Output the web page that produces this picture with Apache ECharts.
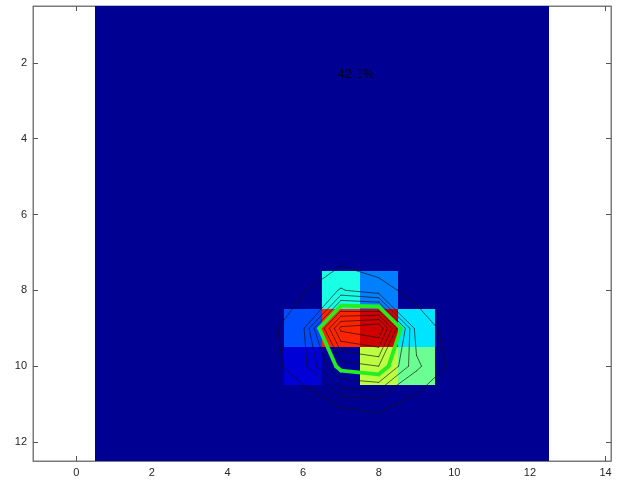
<!DOCTYPE html>
<html>
<head>
<meta charset="utf-8">
<script src="https://cdn.jsdelivr.net/npm/echarts@6/dist/echarts.min.js"></script>
<style>
html,body{margin:0;padding:0;background:#fff;}
#chart{width:621px;height:482px;}
</style>
</head>
<body>
<div id="chart"></div>
<script>
// ---- data ----
const xTicks = [0, 2, 4, 6, 8, 10, 12, 14];
const yTicks = [2, 4, 6, 8, 10, 12];
const gridSize = 12;
const backgroundValue = 0.02;
// image cells that differ from the background (column, row, value on the 0..1 jet scale)
const cellX = [7, 8, 6, 7, 8, 9, 6, 7, 8, 9];
const cellY = [8, 8, 9, 9, 9, 9, 10, 10, 10, 10];
const cellValue = [0.40, 0.25, 0.20, 0.84, 0.92, 0.35, 0.085, 0.03, 0.56, 0.48];
// field that the contour lines are drawn from (zero elsewhere)
const fieldX = [6, 7, 8, 9, 5, 6, 7, 8, 9, 10, 5, 6, 7, 8, 9, 10, 5, 6, 7, 8, 9, 10, 6, 7, 8, 9, 10];
const fieldY = [7, 7, 7, 7, 8, 8, 8, 8, 8, 8, 9, 9, 9, 9, 9, 9, 10, 10, 10, 10, 10, 10, 11, 11, 11, 11, 11];
const fieldValue = [0.01, 0.04, 0.04, 0.01, 0.01, 0.09, 0.21, 0.13, 0.07, 0.01, 0.06, 0.18, 0.93, 1.00, 0.15, 0.06, 0.05, 0.16, 0.55, 0.60, 0.22, 0.07, 0.04, 0.11, 0.13, 0.06, 0.02];
const contourLevels = [0.1, 0.2, 0.3, 0.4, 0.6, 0.7, 0.8, 0.9];
const highlightLevel = 0.5;
const annotationText = '42.1%';
const annotationAt = [7.4, 2.3];

// ---- build image cells ----
const cells = [];
for (let r = 1; r <= gridSize; r++) {
  for (let c = 1; c <= gridSize; c++) {
    let v = backgroundValue;
    for (let k = 0; k < cellX.length; k++) {
      if (cellX[k] === c && cellY[k] === r) v = cellValue[k];
    }
    cells.push([c, r, v]);
  }
}

// ---- contour field and marching squares ----
const F = [];
for (let r = 0; r <= gridSize + 1; r++) { F.push(new Array(gridSize + 2).fill(0)); }
for (let k = 0; k < fieldX.length; k++) F[fieldY[k]][fieldX[k]] = fieldValue[k];

function contourSegments(level) {
  const segs = [];
  for (let j = 1; j < gridSize; j++) {
    for (let i = 1; i < gridSize; i++) {
      const v = [F[j][i], F[j][i + 1], F[j + 1][i + 1], F[j + 1][i]];
      const p = [[i, j], [i + 1, j], [i + 1, j + 1], [i, j + 1]];
      const pts = [];
      for (let k = 0; k < 4; k++) {
        const a = v[k], b = v[(k + 1) % 4];
        if ((a < level) !== (b < level)) {
          const t = (level - a) / (b - a);
          const p0 = p[k], p1 = p[(k + 1) % 4];
          pts.push([p0[0] + t * (p1[0] - p0[0]), p0[1] + t * (p1[1] - p0[1])]);
        }
      }
      if (pts.length === 2) segs.push({ coords: pts });
      else if (pts.length === 4) { segs.push({ coords: [pts[0], pts[1]] }); segs.push({ coords: [pts[2], pts[3]] }); }
    }
  }
  return segs;
}
let blackSegs = [];
contourLevels.forEach(l => { blackSegs = blackSegs.concat(contourSegments(l)); });
const greenSegs = contourSegments(highlightLevel);

// ---- chart ----
const chart = echarts.init(document.getElementById('chart'));
const xMin = -1.145, xMax = 14.145, yMin = 0.5, yMax = 12.5;
const axisLineStyle = { onZero: false, lineStyle: { color: '#7a7a7a', width: 1 } };
const labelStyle = { color: '#262626', fontSize: 11, fontFamily: 'Liberation Sans, Arial, sans-serif' };
const tickStyle = { inside: true, length: 5, lineStyle: { color: '#555' } };

chart.setOption({
  animation: false,
  backgroundColor: '#fff',
  grid: { left: 33, right: 10, top: 6, bottom: 21, show: true, borderColor: '#7a7a7a', borderWidth: 1, backgroundColor: '#fff' },
  xAxis: [
    { type: 'value', min: xMin, max: xMax, position: 'bottom', axisLine: axisLineStyle, splitLine: { show: false },
      axisTick: Object.assign({ customValues: xTicks }, tickStyle),
      axisLabel: Object.assign({ customValues: xTicks, margin: 6 }, labelStyle) },
    { type: 'value', min: xMin, max: xMax, position: 'top', axisLine: axisLineStyle, splitLine: { show: false },
      axisTick: Object.assign({ customValues: xTicks }, tickStyle),
      axisLabel: { show: false, customValues: xTicks } }
  ],
  yAxis: [
    { type: 'value', min: yMin, max: yMax, inverse: true, position: 'left', axisLine: axisLineStyle, splitLine: { show: false },
      axisTick: Object.assign({ customValues: yTicks }, tickStyle),
      axisLabel: Object.assign({ customValues: yTicks, margin: 6 }, labelStyle) },
    { type: 'value', min: yMin, max: yMax, inverse: true, position: 'right', axisLine: axisLineStyle, splitLine: { show: false },
      axisTick: Object.assign({ customValues: yTicks }, tickStyle),
      axisLabel: { show: false, customValues: yTicks } }
  ],
  visualMap: {
    type: 'continuous', show: false, min: 0, max: 1, dimension: 2, seriesIndex: 0,
    inRange: { color: ['#00007f', '#0000ff', '#007fff', '#00ffff', '#7fff7f', '#ffff00', '#ff7f00', '#ff0000', '#7f0000'] }
  },
  series: [
    {
      type: 'custom', data: cells, z: 1,
      renderItem: function (params, api) {
        const x = api.value(0), y = api.value(1);
        const p1 = api.coord([x - 0.5, y - 0.5]);
        const p2 = api.coord([x + 0.5, y + 0.5]);
        const x0 = Math.round(Math.min(p1[0], p2[0])), x1 = Math.round(Math.max(p1[0], p2[0]));
        const y0 = Math.round(Math.min(p1[1], p2[1])), y1 = Math.round(Math.max(p1[1], p2[1]));
        return { type: 'rect', shape: { x: x0, y: y0, width: x1 - x0, height: y1 - y0 }, style: { fill: api.visual('color') } };
      }
    },
    {
      type: 'lines', coordinateSystem: 'cartesian2d', data: blackSegs, z: 3, silent: true,
      lineStyle: { color: '#111', width: 1, opacity: 0.65, cap: 'round' }
    },
    {
      type: 'lines', coordinateSystem: 'cartesian2d', data: greenSegs, z: 4, silent: true,
      lineStyle: { color: '#22ee22', width: 3.8, opacity: 1, cap: 'round', join: 'round' }
    },
    {
      type: 'scatter', data: [annotationAt], symbolSize: 0, z: 5, silent: true,
      label: { show: true, position: 'inside', formatter: annotationText, color: '#000000', fontSize: 13, fontFamily: 'Liberation Sans, Arial, sans-serif' }
    }
  ]
});
</script>
</body>
</html>
